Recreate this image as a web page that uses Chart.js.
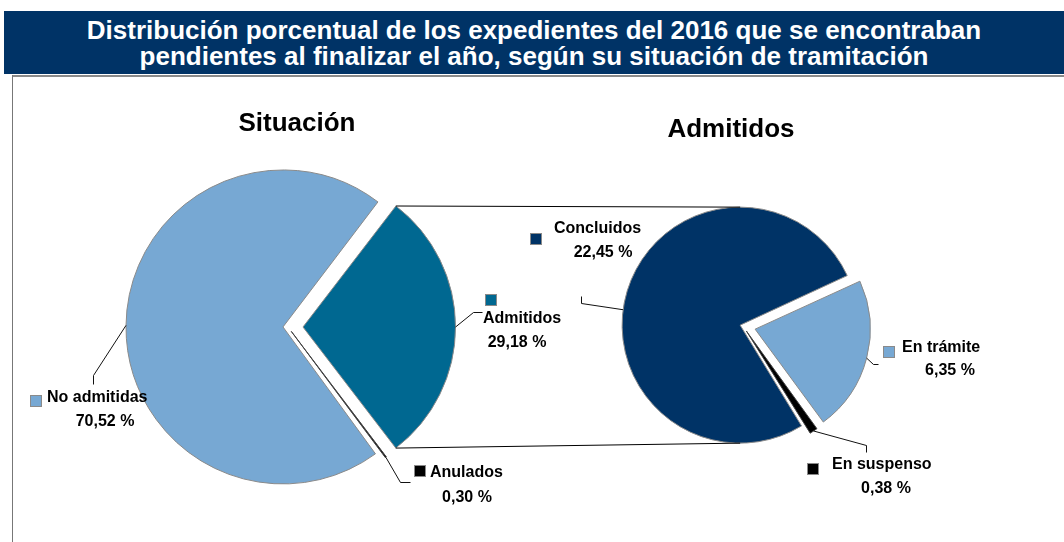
<!DOCTYPE html>
<html lang="es">
<head>
<meta charset="UTF-8">
<title>Expedientes pendientes 2016</title>
<script src="https://cdn.jsdelivr.net/npm/chart.js"></script>
<style>
  body { margin: 0; width: 1064px; height: 542px; background: #fff; position: relative; overflow: hidden;
         font-family: "Liberation Sans", Arial, sans-serif; }
  #header { position: absolute; left: 4px; top: 11px; width: 1060px; height: 63px; background: #003366;
            color: #fff; font-weight: bold; font-size: 26px; line-height: 26px; text-align: center;
            padding-top: 6px; box-sizing: border-box; }
  #topline { position: absolute; left: 12px; top: 75px; width: 1052px; height: 2px; background: #8a8a8a; }
  #leftline { position: absolute; left: 12px; top: 75px; width: 1px; height: 467px; background: #777; }
  canvas { position: absolute; }
  #pieLeft { left: 88px; top: 127px; }
  #pieRight { left: 593px; top: 176px; }
  #overlay { left: 0; top: 0; z-index: 5; }
</style>
</head>
<body>
<div id="header">Distribución porcentual de los expedientes del 2016 que se encontraban<br>pendientes al finalizar el año, según su situación de tramitación</div>
<div id="topline"></div>
<div id="leftline"></div>
<canvas id="pieLeft" width="400" height="400"></canvas>
<canvas id="pieRight" width="300" height="300"></canvas>
<canvas id="overlay" width="1064" height="542"></canvas>

<script>
// data (percent of all pending files)
const situacionLabels = ['Admitidos', 'Anulados', 'No admitidas'];
const situacionValues = [29.18, 0.30, 70.52];
const admitidosLabels = ['En trámite', 'En suspenso', 'Concluidos'];
const admitidosValues = [6.35, 0.38, 22.45];

const LIGHT = '#77a8d3', TEAL = '#006891', NAVY = '#003366', BLACK = '#000000';

function pieConfig(labels, values, colors, borders, offsets, rotation, radius) {
  return {
    type: 'pie',
    data: {
      labels: labels,
      datasets: [{
        data: values,
        backgroundColor: colors,
        borderColor: borders,
        borderWidth: 1,
        offset: offsets,
        hoverOffset: 0,
        radius: radius
      }]
    },
    options: {
      responsive: false,
      animation: false,
      events: [],
      rotation: rotation,
      layout: { padding: 0 },
      plugins: { legend: { display: false }, tooltip: { enabled: false } }
    }
  };
}

const leftChart = new Chart(document.getElementById('pieLeft'),
  pieConfig(situacionLabels, situacionValues, [TEAL, BLACK, LIGHT], ['#8a8a8a', '#444', '#8a8a8a'],
            [60, 22, 20], 37.5, 152));
const rightChart = new Chart(document.getElementById('pieRight'),
  pieConfig(admitidosLabels, admitidosValues, [LIGHT, BLACK, NAVY], ['#8a8a8a', '#444', '#8a8a8a'],
            [50, 24, 12], 65.4, 115));

// point on the outer edge of an arc, in page coordinates (frac 0..1 along the slice)
function arcPoint(chart, i, frac) {
  const el = chart.getDatasetMeta(0).data[i];
  const box = chart.canvas.getBoundingClientRect();
  const off = (el.options.offset || 0) / 4;
  const circ = el.endAngle - el.startAngle;
  const fix = 1 - Math.sin(Math.min(Math.PI, circ));
  const mid = (el.startAngle + el.endAngle) / 2;
  const cx = box.left + el.x + Math.cos(mid) * off;
  const cy = box.top + el.y + Math.sin(mid) * off;
  const r = el.outerRadius + off * fix;
  const a = el.startAngle + circ * frac;
  return { x: cx + r * Math.cos(a), y: cy + r * Math.sin(a), cx: cx, cy: cy, r: r };
}

function fmt(v) { return v.toFixed(2).replace('.', ',') + ' %'; }

// label layout: square, name, value, leader path
const leftLabels = [
  { box: [485, 294], name: [483, 323], val: [517, 347], path: [[473, 312], [482, 312]], color: TEAL },
  { box: [414, 465], name: [430, 477], val: [467, 502], path: [[400, 482], [410, 482]], color: BLACK },
  { box: [30, 395], name: [47, 402], val: [105, 426], path: [[93, 375], [93, 384]], color: LIGHT }
];
const rightLabels = [
  { box: [883, 346], name: [902, 352], val: [950, 375], path: [[873, 364], [878, 364]], color: LIGHT },
  { box: [807, 463], name: [832, 469], val: [886, 493], path: [[866, 445], [866, 452]], color: BLACK },
  { box: [530, 233], name: [554, 233], val: [603, 257], path: [[581, 303], [581, 296]], color: NAVY, frac: 0.466 }
];

function drawOverlay() {
  const ctx = document.getElementById('overlay').getContext('2d');
  ctx.clearRect(0, 0, 1064, 542);

  // connector lines from Admitidos slice to the second pie
  const top = arcPoint(leftChart, 0, 0);
  const bot = arcPoint(leftChart, 0, 1);
  const c = arcPoint(rightChart, 2, 0.5);
  ctx.strokeStyle = '#000';
  ctx.lineWidth = 1;
  ctx.beginPath();
  ctx.moveTo(top.x, top.y); ctx.lineTo(c.cx, c.cy - c.r);
  ctx.moveTo(bot.x, bot.y); ctx.lineTo(c.cx, c.cy + c.r);
  ctx.stroke();

  ctx.fillStyle = '#000';
  ctx.font = 'bold 26px "Liberation Sans", Arial, sans-serif';
  ctx.textAlign = 'center';
  ctx.fillText('Situación', 297, 131);
  ctx.fillText('Admitidos', 731, 137);

  function drawLabels(chart, labels, values, layout) {
    layout.forEach(function (L, i) {
      const p = arcPoint(chart, i, L.frac === undefined ? 0.5 : L.frac);
      ctx.strokeStyle = '#111';
      ctx.lineWidth = 1;
      ctx.beginPath();
      ctx.moveTo(p.x, p.y);
      L.path.forEach(function (q) { ctx.lineTo(q[0] + 0.5, q[1] + 0.5); });
      ctx.stroke();

      ctx.fillStyle = L.color;
      ctx.fillRect(L.box[0], L.box[1], 11, 11);
      ctx.strokeStyle = '#8a8a8a';
      ctx.strokeRect(L.box[0] + 0.5, L.box[1] + 0.5, 11, 11);

      ctx.fillStyle = '#000';
      ctx.font = 'bold 16px "Liberation Sans", Arial, sans-serif';
      ctx.textAlign = 'left';
      ctx.fillText(labels[i], L.name[0], L.name[1]);
      ctx.textAlign = 'center';
      ctx.fillText(fmt(values[i]), L.val[0], L.val[1]);
    });
  }
  drawLabels(leftChart, situacionLabels, situacionValues, leftLabels);
  drawLabels(rightChart, admitidosLabels, admitidosValues, rightLabels);
}

drawOverlay();
</script>
</body>
</html>
